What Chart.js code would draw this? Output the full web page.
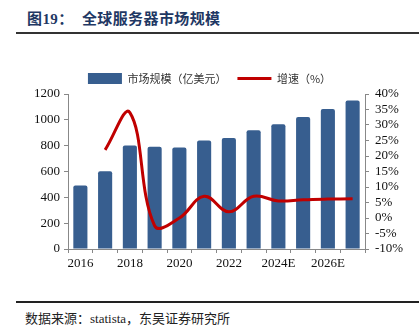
<!DOCTYPE html>
<html>
<head>
<meta charset="utf-8">
<script src="https://cdn.jsdelivr.net/npm/chart.js@4"></script>
<style>
  body { margin: 0; width: 419px; height: 333px; background: #fff; position: relative; overflow: hidden; font-family: "Liberation Serif", "Noto Sans CJK SC", serif; }
  #title { position: absolute; left: 27px; top: 7px; font-size: 15px; font-weight: bold; color: #1f3864; white-space: pre; letter-spacing: 0.4px; }
  #rule1 { position: absolute; left: 16px; right: 0; top: 32px; height: 2px; background: #333; }
  #rule2 { position: absolute; left: 16px; right: 0; top: 301px; height: 2px; background: #222; }
  #source { position: absolute; left: 25px; top: 308px; font-size: 13px; color: #222; }
  #wrap { position: absolute; left: 0; top: 62px; width: 419px; height: 223px; }
</style>
</head>
<body>
<div id="title">图19：  全球服务器市场规模</div>
<div id="rule1"></div>
<div id="wrap"><canvas id="chart"></canvas></div>
<div id="rule2"></div>
<div id="source">数据来源：statista，东吴证券研究所</div>
<script>
const years = ["2016", "2017", "2018", "2019", "2020", "2021", "2022", "2023", "2024E", "2025E", "2026E", "2027E"];
const marketSize = [492, 601, 802, 792, 786, 840, 859, 919, 966, 1021, 1083, 1149];
const growth = [null, 22, 34, -2.5, 0, 7, 2, 7, 5.5, 5.9, 6.1, 6.2];

const ctx = document.getElementById("chart").getContext("2d");

const tickFont = { family: "Liberation Serif", size: 13 };

new Chart(ctx, {
    type: "bar",
    data: {
        labels: years,
        datasets: [{
            type: "line",
            label: "增速（%）",
            data: growth,
            yAxisID: "y2",
            borderColor: "#c00000",
            backgroundColor: "#c00000",
            borderWidth: 3,
            pointRadius: 0,
            pointStyle: "line",
            tension: 0.4,
            order: 0
        }, {
            label: "市场规模（亿美元）",
            data: marketSize,
            yAxisID: "y",
            backgroundColor: "#375e8f",
            borderRadius: 2,
            barPercentage: 0.6,
            categoryPercentage: 0.95,
            pointStyle: "rect",
            order: 1
        }]
    },
    options: {
        responsive: true,
        maintainAspectRatio: false,
        animation: false,
        layout: { padding: 0 },
        plugins: {
            legend: {
                reverse: true,
                labels: {
                    usePointStyle: true,
                    pointStyleWidth: 34,
                    boxHeight: 12,
                    padding: 11,
                    color: "#333",
                    font: { family: "Noto Sans CJK SC", size: 11 },
                    generateLabels: chart => {
                        const items = Chart.defaults.plugins.legend.labels.generateLabels(chart);
                        items.forEach(it => {
                            const ds = chart.data.datasets[it.datasetIndex];
                            if (ds.type == "line") {
                                it.pointStyle = "line";
                                it.lineWidth = 3;
                                it.strokeStyle = "#c00000";
                            } else {
                                it.pointStyle = "rect";
                                it.lineWidth = 0;
                            }
                        });
                        return items;
                    }
                }
            },
            tooltip: { enabled: false }
        },
        scales: {
            x: {
                grid: { display: true, drawOnChartArea: false, tickLength: 4, color: "#888" },
                border: { color: "#888" },
                ticks: {
                    autoSkip: false,
                    maxRotation: 0,
                    color: "#111",
                    font: tickFont,
                    callback: function (v, i) { return i % 2 == 0 ? this.getLabelForValue(v) : ""; }
                },
                afterFit: s => { s.height = 36; }
            },
            y: {
                position: "left",
                min: 0,
                max: 1200,
                grid: { display: true, drawOnChartArea: false, tickLength: 4, color: "#888" },
                border: { color: "#888" },
                ticks: { stepSize: 200, autoSkip: false, color: "#111", font: tickFont, padding: 4, callback: v => String(v) },
                afterFit: s => { s.width = 68; }
            },
            y2: {
                position: "right",
                min: -10,
                max: 40,
                grid: { display: true, drawOnChartArea: false, tickLength: 4, color: "#888" },
                border: { color: "#888" },
                ticks: { stepSize: 5, autoSkip: false, color: "#111", font: tickFont, padding: 6, callback: v => v + "%" },
                afterFit: s => { s.width = 54; }
            }
        }
    }
});
</script>
</body>
</html>
